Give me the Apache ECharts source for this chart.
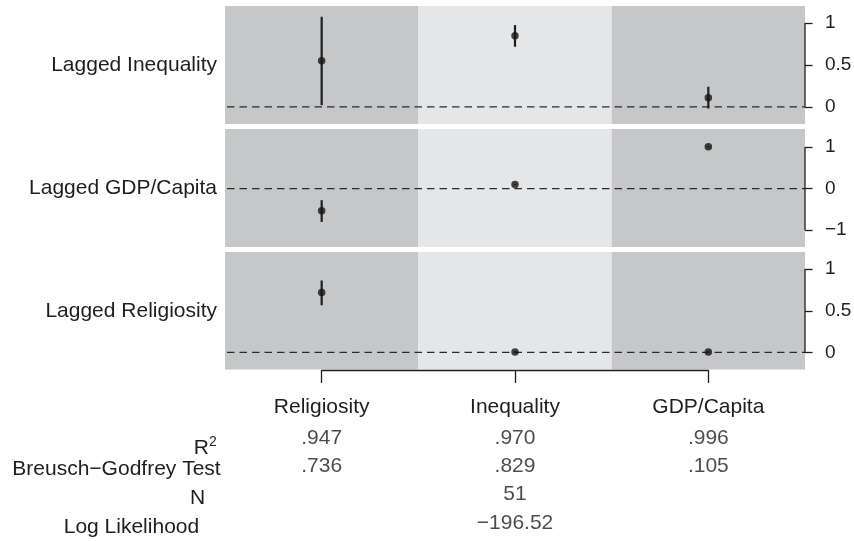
<!DOCTYPE html>
<html>
<head>
<meta charset="utf-8">
<script src="https://cdn.jsdelivr.net/npm/echarts@6/dist/echarts.min.js"></script>
<style>html,body{margin:0;padding:0;background:#fff}#c{width:854px;height:541px}</style>
</head>
<body>
<div id="c"></div>
<script>
// ---------- data ----------
const columns = ['Religiosity', 'Inequality', 'GDP/Capita'];
const panelNames = ['Lagged Inequality', 'Lagged GDP/Capita', 'Lagged Religiosity'];

const lagInequalityEst = [0.551, 0.850, 0.109];
const lagInequalityLo  = [0.020, 0.718, -0.020];
const lagInequalityHi  = [1.076, 0.977, 0.240];

const lagGdpEst = [-0.537, 0.100, 1.010];
const lagGdpLo  = [-0.804, 0.085, 0.995];
const lagGdpHi  = [-0.278, 0.115, 1.025];

const lagReligiosityEst = [0.718, 0.005, 0.005];
const lagReligiosityLo  = [0.566, -0.005, -0.005];
const lagReligiosityHi  = [0.863, 0.015, 0.015];

const ticksInequality = [0, 0.5, 1];
const ticksGdp = [-1, 0, 1];
const ticksReligiosity = [0, 0.5, 1];
const tickLabelsInequality = ['0', '0.5', '1'];
const tickLabelsGdp = ['\u22121', '0', '1'];
const tickLabelsReligiosity = ['0', '0.5', '1'];

const tableRows = ['R2', 'Breusch\u2212Godfrey Test', 'N', 'Log Likelihood'];
const rSquared = ['.947', '.970', '.996'];
const breuschGodfrey = ['.736', '.829', '.105'];
const nObs = ['', '51', ''];
const logLik = ['', '\u2212196.52', ''];

// ---------- layout / style ----------
const W = 854;
const FONT = "'Liberation Sans', Arial, Helvetica, sans-serif";
const FS = 21;
const INK = '#1e1e1e';
const shades = ['#c6c7c9', '#e5e6e8', '#c6c7c9'];
const panelLeft = 225, panelRight = 805;
const colW = (panelRight - panelLeft) / 3;
const panels = [
  {top: 6,   height: 118, min: -0.205, max: 1.205, est: lagInequalityEst, lo: lagInequalityLo, hi: lagInequalityHi, ticks: ticksInequality, labels: tickLabelsInequality},
  {top: 129, height: 118, min: -1.41,  max: 1.44,  est: lagGdpEst, lo: lagGdpLo, hi: lagGdpHi, ticks: ticksGdp, labels: tickLabelsGdp},
  {top: 252, height: 117.5, min: -0.205, max: 1.205, est: lagReligiosityEst, lo: lagReligiosityLo, hi: lagReligiosityHi, ticks: ticksReligiosity, labels: tickLabelsReligiosity}
];

const grid = [], xAxis = [], yAxis = [], series = [];

panels.forEach((p, k) => {
  grid.push({left: panelLeft, right: W - panelRight, top: p.top, height: p.height, outerBoundsMode: 'none', containLabel: false});
  xAxis.push({gridIndex: k, type: 'value', min: 0, max: 3, show: false, axisLine: {onZero: false}});
  // right value axis
  yAxis.push({
    gridIndex: k, type: 'value', position: 'right', min: p.min, max: p.max,
    axisLine: {show: false, onZero: false},
    splitLine: {show: false},
    axisTick: {show: true, customValues: p.ticks, length: 7.5, lineStyle: {color: INK, width: 1.3}},
    axisLabel: {show: true, customValues: p.ticks, margin: 20, color: INK, fontSize: 19, fontFamily: FONT,
      formatter: v => { const i = p.ticks.indexOf(v); return i >= 0 ? p.labels[i] : ''; }}
  });
  // left category axis for panel name
  yAxis.push({
    gridIndex: k, type: 'category', position: 'left', data: [panelNames[k]],
    axisLine: {show: false, onZero: false}, axisTick: {show: false}, splitLine: {show: false},
    axisLabel: {margin: 8, color: INK, fontSize: FS, fontFamily: FONT, padding: [4, 0, 0, 0]}
  });
  const yi = 2 * k;
  // backgrounds
  series.push({
    type: 'custom', xAxisIndex: k, yAxisIndex: yi, z: 0, silent: true,
    data: columns.map((c, i) => [i]),
    renderItem: (params, api) => {
      const i = api.value(0);
      const cs = params.coordSys;
      const x0 = api.coord([i, p.min])[0], x1 = api.coord([i + 1, p.min])[0];
      return {type: 'rect', shape: {x: x0, y: cs.y, width: x1 - x0, height: cs.height}, style: {fill: shades[i]}};
    }
  });
  // zero line + axis line
  series.push({
    type: 'custom', xAxisIndex: k, yAxisIndex: yi, z: 1, silent: true,
    data: [[0]],
    renderItem: (params, api) => {
      const a = api.coord([0, 0]), b = api.coord([3, 0]);
      const t0 = api.coord([3, p.ticks[0]]), t1 = api.coord([3, p.ticks[p.ticks.length - 1]]);
      return {type: 'group', children: [
        {type: 'line', shape: {x1: a[0] + 2, y1: a[1], x2: b[0], y2: b[1]}, style: {stroke: '#2a2a2a', lineWidth: 1.4, lineDash: [7.5, 5]}},
        {type: 'line', shape: {x1: t0[0], y1: t0[1], x2: t1[0], y2: t1[1]}, style: {stroke: INK, lineWidth: 1.3}}
      ]};
    }
  });
  // error bars
  series.push({
    type: 'custom', xAxisIndex: k, yAxisIndex: yi, z: 2, silent: true,
    data: columns.map((c, i) => [i + 0.5, p.lo[i], p.hi[i]]),
    encode: {x: 0, y: [1, 2]},
    renderItem: (params, api) => {
      const a = api.coord([api.value(0), api.value(1)]);
      const b = api.coord([api.value(0), api.value(2)]);
      return {type: 'line', shape: {x1: a[0], y1: a[1], x2: b[0], y2: b[1]}, style: {stroke: INK, lineWidth: 2.2}};
    }
  });
  // point estimates
  series.push({
    type: 'scatter', xAxisIndex: k, yAxisIndex: yi, z: 3, silent: true,
    symbol: 'circle', symbolSize: 7.5, itemStyle: {color: '#151515'},
    data: columns.map((c, i) => [i + 0.5, p.est[i]])
  });
});

// bottom category axis (column names)
const axLeft = panelLeft + colW / 2, axRight = W - (panelRight - colW / 2);
grid.push({left: axLeft, right: axRight, top: 369, height: 1, outerBoundsMode: 'none', containLabel: false});
xAxis.push({
  gridIndex: 3, type: 'category', data: columns, boundaryGap: false, position: 'bottom',
  axisLine: {show: true, onZero: false, lineStyle: {color: INK, width: 1.3}},
  axisTick: {show: true, length: 13, lineStyle: {color: INK, width: 1.3}},
  axisLabel: {margin: 27, color: INK, fontSize: FS, fontFamily: FONT, interval: 0}
});
yAxis.push({gridIndex: 3, type: 'value', show: false});

// table of fit statistics
grid.push({left: axLeft, right: axRight, top: 438, height: 85, outerBoundsMode: 'none', containLabel: false});
xAxis.push({gridIndex: 4, type: 'category', data: columns, boundaryGap: false, show: false});
const rich = {
  rR:  {fontSize: FS, lineHeight: FS, fontFamily: FONT, color: INK, padding: [20, 0, 0, 0]},
  rSup:{fontSize: 14, lineHeight: 14, fontFamily: FONT, color: INK, padding: [18, 5, 9, 0]},
  r1:  {fontSize: FS, fontFamily: FONT, color: INK, padding: [6, 1, 0, 0]},
  r2:  {fontSize: FS, fontFamily: FONT, color: INK, padding: [7, 16.5, 0, 0]},
  r3:  {fontSize: FS, fontFamily: FONT, color: INK, padding: [9, 22.5, 0, 0]}
};
yAxis.push({
  gridIndex: 4, type: 'category', data: tableRows, inverse: true, boundaryGap: false, position: 'left',
  axisLine: {show: false, onZero: false}, axisTick: {show: false}, splitLine: {show: false},
  axisLabel: {margin: 100, interval: 0, color: INK, fontSize: FS, fontFamily: FONT, rich: rich,
    formatter: v => {
      const i = tableRows.indexOf(v);
      if (i === 0) return '{rR|' + v.charAt(0) + '}{rSup|' + v.slice(1) + '}';
      return '{r' + i + '|' + v + '}';
    }}
});
const tableData = [];
[rSquared, breuschGodfrey, nObs, logLik].forEach((arr, r) => {
  arr.forEach((txt, c) => { if (txt) tableData.push([c, r, txt]); });
});
series.push({
  type: 'scatter', xAxisIndex: 4, yAxisIndex: 7, silent: true,
  symbolSize: 0, itemStyle: {color: 'transparent'},
  data: tableData,
  label: {show: true, position: 'inside', formatter: p => p.value[2], color: INK, fontSize: FS, fontFamily: FONT}
});

const chart = echarts.init(document.getElementById('c'), null, {renderer: 'canvas'});
chart.setOption({
  animation: false,
  backgroundColor: '#ffffff',
  textStyle: {fontFamily: FONT},
  grid, xAxis, yAxis, series
});
</script>
</body>
</html>
